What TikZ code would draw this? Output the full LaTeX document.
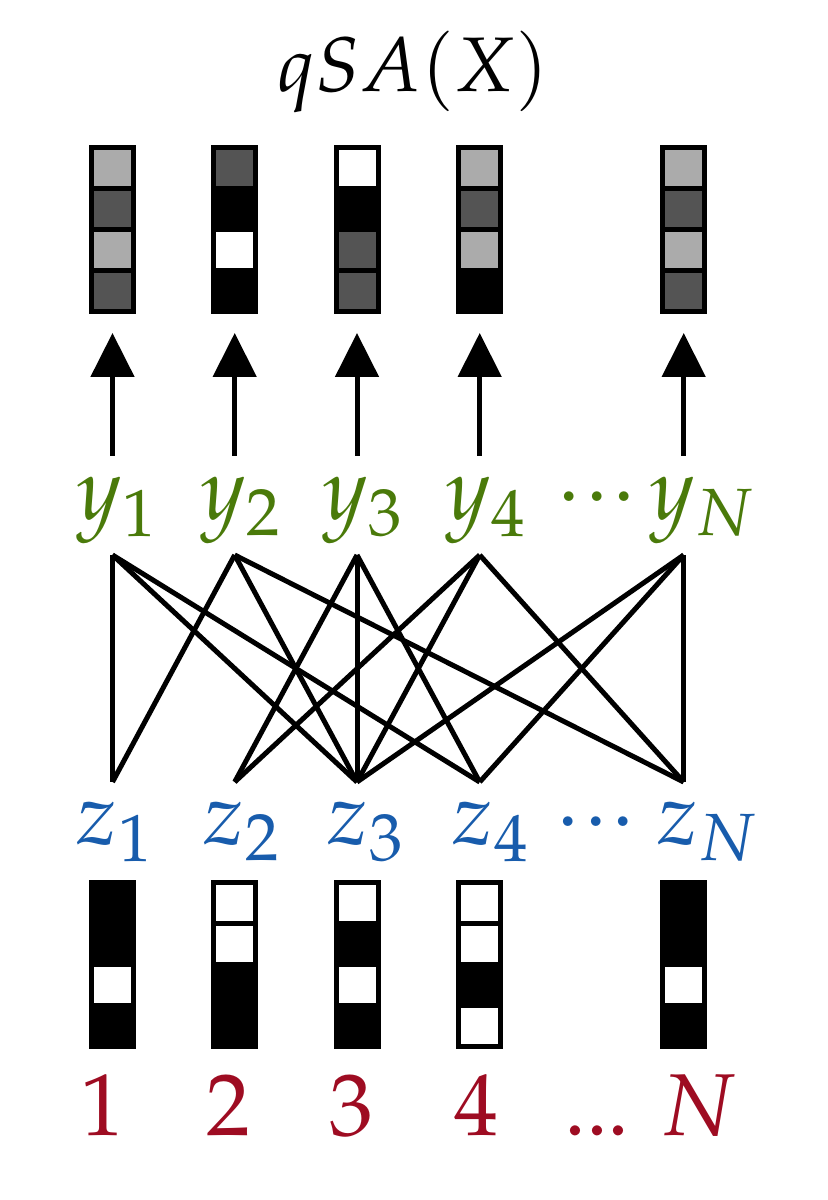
\documentclass[tikz,border=0pt]{standalone}
\usepackage{mathpazo}
\usetikzlibrary{arrows.meta}

\definecolor{ycol}{RGB}{74,122,10}
\definecolor{zcol}{RGB}{24,92,172}
\definecolor{ncol}{RGB}{158,12,34}
\colorlet{lg}{black!33}
\colorlet{dg}{black!67}

\newcommand{\mydots}{{\cdot}{\cdot}{\cdot}}

\tikzset{
  cell/.style={line width=0.05cm, draw=black},
  arr/.style={line width=0.05cm, -{Triangle[length=0.44cm,width=0.43cm]}},
  link/.style={line width=0.05cm},
  lab/.style={anchor=base, inner sep=0pt},
}

\begin{document}
\begin{tikzpicture}[font=\fontsize{25}{30}\selectfont]
  \useasboundingbox (0,0) rectangle (8.27,12);
  \node[lab, font=\fontsize{22}{26}\selectfont] (title) at (4.13,11.08) {$qSA(X)$};
  % output vectors and arrows
  \foreach \x/\n/\p/\q/\r/\s in {1.125/1/lg/dg/lg/dg, 2.347/2/dg/black/white/black,
      3.57/3/white/black/dg/dg, 4.797/4/lg/dg/lg/black, 6.837/N/lg/dg/lg/dg}{
    \foreach \f [count=\k] in {\p,\q,\r,\s}
      \draw[cell, fill=\f] (\x-0.21,10.525-0.41*\k) rectangle ++(0.42,0.41);
    \coordinate (in\n) at (\x,7.44);
    \coordinate (out\n) at (\x,8.67);
    \draw[arr] (in\n) -- (out\n);
    \coordinate (yt\n) at (\x,6.45);
    \coordinate (zb\n) at (\x,4.18);
  }
  % input vectors
  \foreach \x/\n/\p/\q/\r/\s in {1.125/1/black/black/white/black, 2.347/2/white/white/black/black,
      3.57/3/white/black/white/black, 4.797/4/white/white/black/white, 6.837/N/black/black/white/black}{
    \foreach \f [count=\k] in {\p,\q,\r,\s}
      \draw[cell, fill=\f] (\x-0.21,3.175-0.41*\k) rectangle ++(0.42,0.41);
  }
  % labels
  \foreach \n/\x in {1/1.17, 2/2.41, 3/3.63, 4/4.86, N/7.02}
    \node[lab, ycol] (y\n) at (\x,6.80) {$y_\n$};
  \node[lab, ycol] (ydots) at (5.97,6.80) {$\mydots$};
  \foreach \n/\x in {1/1.15, 2/2.42, 3/3.66, 4/4.91, N/7.08}
    \node[lab, zcol] (z\n) at (\x,3.55) {$z_\n$};
  \node[lab, zcol] (zdots) at (5.96,3.55) {$\mydots$};
  \foreach \n/\x in {1/1.02, 2/2.28, 3/3.51, 4/4.76}
    \node[lab, ncol] (p\n) at (\x,0.64) {$\n$};
  \node[lab, ncol] (pdots) at (5.97,0.64) {${.}{.}{.}$};
  \node[lab, ncol] (pN) at (6.99,0.64) {$N$};
  % attention links
  \foreach \a/\b in {1/1,1/3,1/4,2/1,2/3,2/N,3/2,3/3,3/4,4/2,4/3,4/N,N/3,N/4,N/N}
    \draw[link] (yt\a) -- (zb\b);
\end{tikzpicture}
\end{document}
